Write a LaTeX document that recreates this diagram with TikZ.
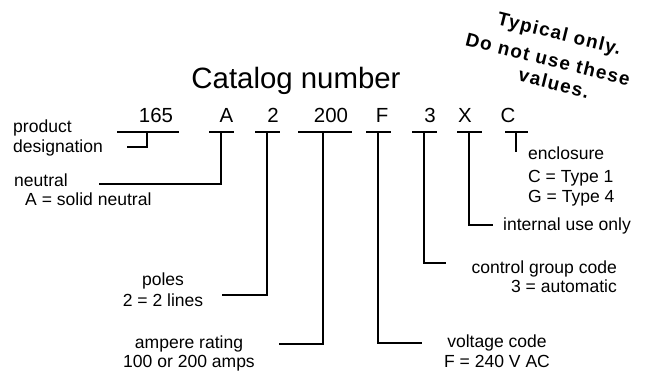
\documentclass[tikz,border=0pt]{standalone}
\usepackage{fontspec}
\setmainfont{Liberation Sans}
\newfontfamily\notefont[LetterSpace=7]{Liberation Sans}
\begin{document}
\begin{tikzpicture}[x=1bp,y=-1bp,
  lead/.style={line width=1.8bp, line join=miter},
  code/.style={font=\fontsize{20.5}{20}\selectfont, inner sep=0, anchor=base},
  lbl/.style={font=\fontsize{17.6}{20}\selectfont, inner sep=0},
  note/.style={font=\notefont\fontsize{19}{21}\selectfont\bfseries, inner sep=0, rotate=-14, anchor=center}]
\useasboundingbox (0,0) rectangle (652,371);

% heading
\node[font=\fontsize{29.5}{30}\selectfont, inner sep=0, anchor=base] (title) at (296,88) {Catalog number};

% warning note
\node[note] (n1) at (559,35) {Typical only.};
\node[note] (n2) at (548,59) {Do not use these};
\node[note] (n3) at (554,83) {values.};

% catalog number fields
\node[code] (k165) at (156,122) {165};
\node[code] (kA)   at (226.5,122) {A};
\node[code] (k2)   at (273,122) {2};
\node[code] (k200) at (331,122) {200};
\node[code] (kF)   at (382,122) {F};
\node[code] (k3)   at (430,122) {3};
\node[code] (kX)   at (465,122) {X};
\node[code] (kC)   at (508,122) {C};

% stem tops under each field
\coordinate (b165) at (147,132);
\coordinate (bA)   at (221,132);
\coordinate (b2)   at (267,132);
\coordinate (b200) at (323,132);
\coordinate (bF)   at (378,132);
\coordinate (b3)   at (424,132);
\coordinate (bX)   at (469,132);
\coordinate (bC)   at (516,132);

% underline bars
\draw[lead] ([xshift=-30bp]b165) -- ([xshift=32bp]b165);
\draw[lead] ([xshift=-12bp]bA) -- ([xshift=13bp]bA);
\draw[lead] ([xshift=-12bp]b2) -- ([xshift=13bp]b2);
\draw[lead] ([xshift=-25bp]b200) -- ([xshift=29bp]b200);
\draw[lead] ([xshift=-12bp]bF) -- ([xshift=13bp]bF);
\draw[lead] ([xshift=-12bp]b3) -- ([xshift=13bp]b3);
\draw[lead] ([xshift=-12bp]bX) -- ([xshift=13bp]bX);
\draw[lead] ([xshift=-11bp]bC) -- ([xshift=12bp]bC);

% descriptions (anchored at the baseline of their last line)
\node[lbl, anchor=base west, align=left] (pd) at (13,152) {product\\designation};
\node[lbl, anchor=base west, align=left] (neu) at (14,205) {neutral\\[-1.5bp]\hspace*{11bp}A = solid neutral};
\node[lbl, anchor=base, align=center] (pol) at (163,306) {poles\\[1bp]2 = 2 lines};
\node[lbl, anchor=base, align=center] (amp) at (189,367) {ampere rating\\[-1bp]100 or 200 amps};
\node[lbl, anchor=base, align=center] (vol) at (497,367) {voltage code\\F = 240 V AC};
\node[lbl, anchor=base east, align=right] (cgc) at (617,292) {control group code\\[-1.5bp]3 = automatic};
\node[lbl, anchor=base west] (int) at (503,230) {internal use only};
\node[lbl, anchor=base west, align=left] (enc) at (528,202) {enclosure\\[3bp]C = Type 1\\G = Type 4};

% leader ends
\coordinate (e165) at (127,147);
\coordinate (eA)   at (99,184);
\coordinate (e2)   at (222,295);
\coordinate (e200) at (279,344);
\coordinate (eF)   at (422,343);
\coordinate (e3)   at (446,263);
\coordinate (eX)   at (493,225);
\coordinate (eC)   at (516,152);

% leaders
\draw[lead] (b165) |- (e165);
\draw[lead] (bA) |- (eA);
\draw[lead] (b2) |- (e2);
\draw[lead] (b200) |- (e200);
\draw[lead] (bF) |- (eF);
\draw[lead] (b3) |- (e3);
\draw[lead] (bX) |- (eX);
\draw[lead] (bC) -- (eC);
\end{tikzpicture}
\end{document}
